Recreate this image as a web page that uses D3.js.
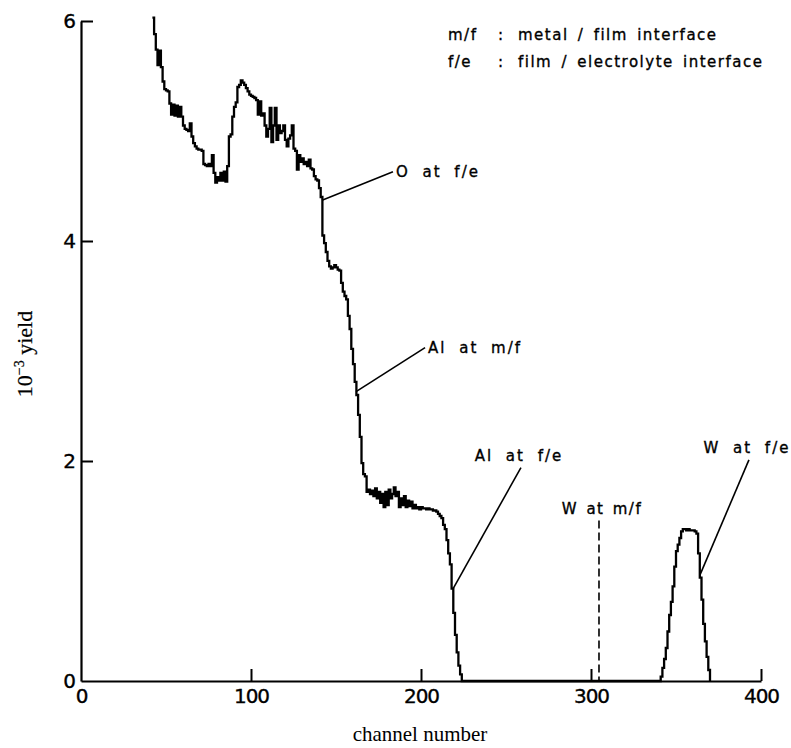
<!DOCTYPE html>
<html>
<head>
<meta charset="utf-8">
<script src="https://cdn.jsdelivr.net/npm/d3@7"></script>
<style>
  html, body { margin: 0; padding: 0; background: #fff; }
  .letter { font-family: "DejaVu Sans", sans-serif; fill: #000; stroke: #000; stroke-width: 0.35px; }
  .serif { font-family: "Liberation Serif", "Times New Roman", serif; fill: #000; }
  .rotated { stroke: #000; stroke-width: 0.25px; opacity: 0.999; }
</style>
</head>
<body>
<svg id="chart" width="791" height="748"></svg>
<script>
// Backscattering spectrum: yield (x10^3) per channel
const xTicks = [0, 100, 200, 300, 400];
const yTicks = [0, 2, 4, 6];

// Al + O part of the spectrum, one value per channel starting at channel 42
const mainStart = 42;
const mainYield = [
  6.03, 5.88, 5.74, 5.60, 5.73, 5.58, 5.45, 5.38, 5.37, 5.36,
  5.25, 5.15, 5.24, 5.14, 5.23, 5.13, 5.22, 5.13, 5.05, 5.02,
  5.01, 5.00, 5.07, 4.95, 4.89, 4.86, 4.84, 4.83, 4.83, 4.82,
  4.70, 4.69, 4.68, 4.70, 4.68, 4.78, 4.62, 4.53, 4.58, 4.55,
  4.62, 4.55, 4.63, 4.54, 4.68, 4.95, 4.97, 5.13, 5.22, 5.26,
  5.40, 5.42, 5.46, 5.44, 5.42, 5.39, 5.36, 5.33, 5.32, 5.31,
  5.30, 5.28, 5.15, 5.27, 5.14, 5.16, 5.05, 4.95, 5.02, 5.21,
  4.90, 5.05, 5.21, 4.92, 5.05, 4.98, 5.00, 5.05, 4.92, 4.86,
  4.93, 4.96, 5.05, 4.84, 4.82, 4.65, 4.78, 4.72, 4.75, 4.70,
  4.72, 4.68, 4.74, 4.66, 4.65, 4.59, 4.56, 4.55, 4.48, 4.40,
  4.05, 3.98, 3.90, 3.82, 3.77, 3.75, 3.76, 3.78, 3.76, 3.74,
  3.73, 3.62, 3.54, 3.50, 3.47, 3.32, 3.20, 3.02, 2.88, 2.72,
  2.60, 2.42, 2.22, 1.98, 1.88, 1.86, 1.72, 1.74, 1.70, 1.73,
  1.68, 1.75, 1.66, 1.72, 1.62, 1.70, 1.58, 1.72, 1.60, 1.74,
  1.66, 1.70, 1.76, 1.68, 1.72, 1.58, 1.66, 1.60, 1.68, 1.58,
  1.64, 1.59, 1.63, 1.57, 1.60, 1.57, 1.58, 1.56, 1.58, 1.57,
  1.57, 1.56, 1.57, 1.56, 1.56, 1.55, 1.55, 1.54, 1.52, 1.50,
  1.48, 1.42, 1.38, 1.28, 1.16, 1.06, 0.84, 0.62, 0.42, 0.26,
  0.14, 0.06, 0.00
];

// W peak, one value per channel starting at channel 340
const peakStart = 340;
const peakYield = [
  0.00, 0.04, 0.12, 0.20, 0.30, 0.45, 0.60, 0.72, 0.86, 1.04,
  1.18, 1.24, 1.30, 1.36, 1.38, 1.38, 1.37, 1.38, 1.37, 1.37,
  1.37, 1.36, 1.34, 1.16, 0.94, 0.74, 0.52, 0.36, 0.22, 0.10,
  0.00
];

const legendKeys = ["m/f", "f/e"];
const legendMeanings = ["metal / film interface", "film / electrolyte interface"];

// Leader-line annotations: label, point on the curve, free end (channel, yield)
const leaderLabels = ["O at f/e", "Al at m/f", "Al at f/e", "W at f/e"];
const leaderCurvePts = [[141.8, 4.37], [161.8, 2.63], [218.9, 0.84], [364.0, 0.96]];
const leaderEndPts = [[183.5, 4.63], [202.4, 3.03], [258.8, 1.94], [392.9, 2.01]];

// Position of W at the metal/film interface (dashed marker)
const interfaceLabel = "W at m/f";
const interfaceChannel = 304.7;
const interfaceTop = 1.46;

const xTitle = "channel number";

// ---------------------------------------------------------------
const svg = d3.select("#chart");
const x = d3.scaleLinear().domain([0, 400]).range([81, 761]);
const y = d3.scaleLinear().domain([0, 6]).range([681, 21]);

// spectrum points
const points = [];
mainYield.forEach((v, i) => points.push([mainStart + i, v]));
peakYield.forEach((v, i) => points.push([peakStart + i, v]));

const line = d3.line()
  .x(d => x(d[0]))
  .y(d => y(d[1]))
  .curve(d3.curveStepAfter);

// axes, ticks pointing inward
const fmt = d3.format("d");
const xAxis = d3.axisBottom(x).tickValues(xTicks).tickFormat(fmt)
  .tickSizeInner(-12).tickSizeOuter(0).tickPadding(7);
const yAxis = d3.axisLeft(y).tickValues(yTicks).tickFormat(fmt)
  .tickSizeInner(-12).tickSizeOuter(0).tickPadding(6);

const gx = svg.append("g").attr("transform", `translate(0,${y(0)})`).call(xAxis);
const gy = svg.append("g").attr("transform", `translate(${x(0)},0)`).call(yAxis);

[gx, gy].forEach(g => {
  g.selectAll("path.domain").attr("stroke", "#000").attr("stroke-width", 2.2);
  g.selectAll(".tick line").attr("stroke", "#000").attr("stroke-width", 2);
  g.selectAll(".tick text")
    .attr("class", "letter")
    .attr("font-size", 20)
    .attr("letter-spacing", -1)
    .attr("fill", "#000");
});
gy.selectAll(".tick").filter(d => d === 0).select("line").remove();
gx.selectAll(".tick").filter(d => d === 0).select("line").remove();
gx.selectAll(".tick text").attr("dy", "0.75em");

// spectrum line
svg.append("path")
  .datum(points)
  .attr("fill", "none")
  .attr("stroke", "#000")
  .attr("stroke-width", 2.3)
  .attr("stroke-linejoin", "miter")
  .attr("d", line);

// dashed marker for W at m/f
svg.append("line")
  .attr("x1", x(interfaceChannel)).attr("x2", x(interfaceChannel))
  .attr("y1", y(interfaceTop)).attr("y2", y(0))
  .attr("stroke", "#000").attr("stroke-width", 1.6)
  .attr("stroke-dasharray", "8,4");
svg.append("text")
  .attr("class", "letter")
  .attr("x", x(interfaceChannel) + 3).attr("y", y(interfaceTop) - 6)
  .attr("text-anchor", "middle")
  .attr("font-size", 15).attr("letter-spacing", 1.5).attr("word-spacing", 2)
  .text(interfaceLabel);

// leader lines + labels
const labelPlacement = ["right", "right", "above", "above"];
leaderLabels.forEach((lab, i) => {
  const [c0, v0] = leaderCurvePts[i];
  const [c1, v1] = leaderEndPts[i];
  svg.append("line")
    .attr("x1", x(c0)).attr("y1", y(v0))
    .attr("x2", x(c1)).attr("y2", y(v1))
    .attr("stroke", "#000").attr("stroke-width", 1.6);
  const t = svg.append("text")
    .attr("class", "letter")
    .attr("font-size", 15).attr("letter-spacing", 2).attr("word-spacing", 6)
    .text(lab);
  if (labelPlacement[i] === "right") {
    t.attr("x", x(c1) + 3).attr("y", y(v1) + 5);
  } else {
    t.attr("x", x(c1) - 2).attr("y", y(v1) - 7).attr("text-anchor", "middle");
  }
});

// legend of interface abbreviations
legendKeys.forEach((k, i) => {
  const by = 40 + i * 27;
  svg.append("text").attr("class", "letter").attr("font-size", 15)
    .attr("letter-spacing", 1.5).attr("x", 448).attr("y", by).text(k);
  svg.append("text").attr("class", "letter").attr("font-size", 15)
    .attr("x", 498).attr("y", by).text(":");
  svg.append("text").attr("class", "letter").attr("font-size", 15)
    .attr("letter-spacing", 1.5).attr("word-spacing", 3)
    .attr("x", 518).attr("y", by).text(legendMeanings[i]);
});

// axis titles
svg.append("text")
  .attr("class", "serif")
  .attr("x", 420).attr("y", 741)
  .attr("text-anchor", "middle")
  .attr("font-size", 21)
  .attr("fill", "#000")
  .text(xTitle);

const yt = svg.append("text")
  .attr("class", "serif rotated")
  .attr("fill", "#000")
  .attr("transform", "translate(32,354) rotate(-90)")
  .attr("text-anchor", "middle")
  .attr("font-size", 22);
yt.append("tspan").text("10");
yt.append("tspan").attr("font-size", 14).attr("dy", -8).text("\u22123");
yt.append("tspan").attr("dy", 8).text(" yield");
</script>
</body>
</html>
